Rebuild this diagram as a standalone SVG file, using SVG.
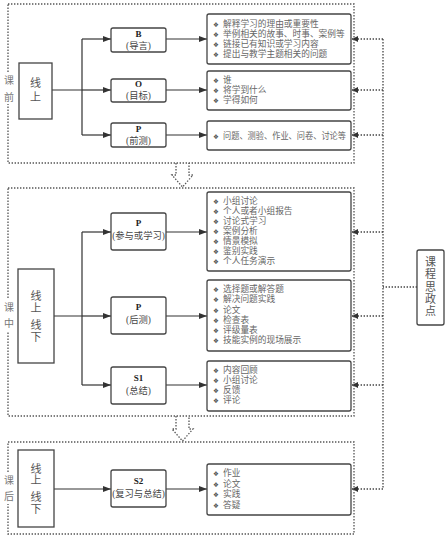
<svg xmlns="http://www.w3.org/2000/svg" width="445" height="540" viewBox="0 0 445 540">
<defs>
<style>
text{font-family:"Liberation Serif","Noto Sans CJK SC",serif;}
.sec{fill:none;stroke:#555;stroke-width:1.3;stroke-dasharray:1.4 1.6;}
.box{fill:#fff;stroke:#444;stroke-width:1.3;}
.lst{fill:#fff;stroke:#444;stroke-width:1.3;}
.ln{fill:none;stroke:#333;stroke-width:1.2;}
.dl{fill:none;stroke:#444;stroke-width:1.3;stroke-dasharray:1.4 1.6;}
.lbl{font-size:10px;fill:#777;text-anchor:middle;}
.big{font-size:11px;fill:#555;text-anchor:middle;}
.t1{font-size:9px;fill:#222;text-anchor:middle;font-weight:bold;}
.t2{font-size:9.3px;fill:#444;text-anchor:middle;}
.li{font-size:8.7px;fill:#666;}
.bul{font-family:"DejaVu Sans",sans-serif;font-size:6.5px;fill:#555;}
</style>
<marker id="ah" markerUnits="userSpaceOnUse" markerWidth="8" markerHeight="6" refX="8" refY="3" orient="auto"><path d="M0,0 L8,3 L0,6 z" fill="#333"/></marker>
<marker id="ahd" markerUnits="userSpaceOnUse" markerWidth="6" markerHeight="6" refX="6" refY="3" orient="auto"><path d="M0,0 L6,3 L0,6 z" fill="#333"/></marker>
</defs>
<rect width="445" height="540" fill="#fff"/>

<g id="sections">
<rect class="sec" x="8" y="4" width="346" height="159"/>
<rect class="sec" x="8" y="188" width="346" height="228"/>
<rect class="sec" x="8" y="442" width="346" height="92"/>
<path class="sec" d="M176,163 V175 H172 L182.5,187 L193,175 H189 V163"/>
<path class="sec" d="M176,416 V429 H172 L182.5,441 L193,429 H189 V416"/>
<rect x="3" y="72" width="11" height="32" fill="#fff"/>
<text class="lbl" x="9" y="84">课</text><text class="lbl" x="9" y="101">前</text>
<rect x="3" y="299" width="11" height="32" fill="#fff"/>
<text class="lbl" x="9" y="311">课</text><text class="lbl" x="9" y="327">中</text>
<rect x="3" y="472" width="11" height="32" fill="#fff"/>
<text class="lbl" x="9" y="484">课</text><text class="lbl" x="9" y="500">后</text>
</g>

<g id="connectors">
<path class="ln" d="M52,90 H82 M82,39 V135 M54,316 H82 M82,232 V385"/>
<path class="ln" marker-end="url(#ah)" d="M82,39 H111"/>
<path class="ln" marker-end="url(#ah)" d="M82,90 H111"/>
<path class="ln" marker-end="url(#ah)" d="M82,135 H111"/>
<path class="ln" marker-end="url(#ah)" d="M166,39 H207"/>
<path class="ln" marker-end="url(#ah)" d="M166,90 H207"/>
<path class="ln" marker-end="url(#ah)" d="M166,135 H207"/>
<path class="ln" marker-end="url(#ah)" d="M82,232 H111"/>
<path class="ln" marker-end="url(#ah)" d="M82,316 H111"/>
<path class="ln" marker-end="url(#ah)" d="M82,385 H111"/>
<path class="ln" marker-end="url(#ah)" d="M166,232 H207"/>
<path class="ln" marker-end="url(#ah)" d="M166,316 H207"/>
<path class="ln" marker-end="url(#ah)" d="M166,385 H207"/>
<path class="ln" marker-end="url(#ah)" d="M54,489 H111"/>
<path class="ln" marker-end="url(#ah)" d="M166,489 H207"/>
<path class="dl" d="M383,39 V489 M417,287 H383"/>
<path class="dl" marker-end="url(#ahd)" d="M383,39 H352"/>
<path class="dl" marker-end="url(#ahd)" d="M383,90 H352"/>
<path class="dl" marker-end="url(#ahd)" d="M383,135 H352"/>
<path class="dl" marker-end="url(#ahd)" d="M383,232 H352"/>
<path class="dl" marker-end="url(#ahd)" d="M383,316 H352"/>
<path class="dl" marker-end="url(#ahd)" d="M383,385 H352"/>
<path class="dl" marker-end="url(#ahd)" d="M383,489 H352"/>
</g>

<g id="online1">
<rect class="box" x="19" y="63" width="33" height="56"/>
<text class="big" x="35.5" y="87">线</text><text class="big" x="35.5" y="101">上</text>
</g>
<g id="B">
<rect class="box" x="111" y="28" width="55" height="24" rx="2"/>
<text class="t1" x="138.5" y="36.5">B</text><text class="t2" x="138.5" y="48.5">(导言)</text>
</g>
<g id="O">
<rect class="box" x="111" y="79" width="55" height="23" rx="2"/>
<text class="t1" x="138.5" y="87">O</text><text class="t2" x="138.5" y="99">(目标)</text>
</g>
<g id="P1">
<rect class="box" x="111" y="123" width="55" height="24" rx="2"/>
<text class="t1" x="138.5" y="131.5">P</text><text class="t2" x="138.5" y="143.5">(前测)</text>
</g>
<g id="listB">
<rect class="lst" x="207" y="14" width="144" height="50" rx="2"/>
<text class="li" y="27"><tspan class="bul" x="213">❖</tspan><tspan x="223">解释学习的理由或重要性</tspan></text>
<text class="li" y="37"><tspan class="bul" x="213">❖</tspan><tspan x="223">举例相关的故事、时事、案例等</tspan></text>
<text class="li" y="47"><tspan class="bul" x="213">❖</tspan><tspan x="223">链接已有知识或学习内容</tspan></text>
<text class="li" y="57"><tspan class="bul" x="213">❖</tspan><tspan x="223">提出与教学主题相关的问题</tspan></text>
</g>
<g id="listO">
<rect class="lst" x="207" y="71" width="144" height="39" rx="2"/>
<text class="li" y="83"><tspan class="bul" x="213">❖</tspan><tspan x="223">谁</tspan></text>
<text class="li" y="93"><tspan class="bul" x="213">❖</tspan><tspan x="223">将学到什么</tspan></text>
<text class="li" y="103"><tspan class="bul" x="213">❖</tspan><tspan x="223">学得如何</tspan></text>
</g>
<g id="listP1">
<rect class="lst" x="207" y="121" width="144" height="29" rx="2"/>
<text class="li" y="138.5"><tspan class="bul" x="213">❖</tspan><tspan x="223" textLength="123" lengthAdjust="spacingAndGlyphs">问题、测验、作业、问卷、讨论等</tspan></text>
</g>

<g id="online2">
<rect class="box" x="18" y="269" width="36" height="94"/>
<text class="big" x="36" y="300">线</text><text class="big" x="36" y="312">上</text>
<text class="big" x="36" y="329">线</text><text class="big" x="36" y="341">下</text>
</g>
<g id="P2">
<rect class="box" x="111" y="213" width="55" height="37" rx="2"/>
<text class="t1" x="138.5" y="226">P</text><text class="t2" x="138.5" y="238.5">(参与或学习)</text>
</g>
<g id="P3">
<rect class="box" x="111" y="297" width="55" height="37" rx="2"/>
<text class="t1" x="138.5" y="310">P</text><text class="t2" x="138.5" y="323">(后测)</text>
</g>
<g id="S1">
<rect class="box" x="111" y="367" width="55" height="37" rx="2"/>
<text class="t1" x="138.5" y="381">S1</text><text class="t2" x="138.5" y="393.5">(总结)</text>
</g>
<g id="listP2">
<rect class="lst" x="207" y="192" width="144" height="79" rx="2"/>
<text class="li" y="204"><tspan class="bul" x="213">❖</tspan><tspan x="223">小组讨论</tspan></text>
<text class="li" y="214"><tspan class="bul" x="213">❖</tspan><tspan x="223">个人或者小组报告</tspan></text>
<text class="li" y="224"><tspan class="bul" x="213">❖</tspan><tspan x="223">讨论式学习</tspan></text>
<text class="li" y="234"><tspan class="bul" x="213">❖</tspan><tspan x="223">案例分析</tspan></text>
<text class="li" y="244"><tspan class="bul" x="213">❖</tspan><tspan x="223">情景模拟</tspan></text>
<text class="li" y="254"><tspan class="bul" x="213">❖</tspan><tspan x="223">鉴别实践</tspan></text>
<text class="li" y="264"><tspan class="bul" x="213">❖</tspan><tspan x="223">个人任务演示</tspan></text>
</g>
<g id="listP3">
<rect class="lst" x="207" y="280" width="144" height="71" rx="2"/>
<text class="li" y="292"><tspan class="bul" x="213">❖</tspan><tspan x="223">选择题或解答题</tspan></text>
<text class="li" y="302"><tspan class="bul" x="213">❖</tspan><tspan x="223">解决问题实践</tspan></text>
<text class="li" y="312.5"><tspan class="bul" x="213">❖</tspan><tspan x="223">论文</tspan></text>
<text class="li" y="322.5"><tspan class="bul" x="213">❖</tspan><tspan x="223">检查表</tspan></text>
<text class="li" y="333"><tspan class="bul" x="213">❖</tspan><tspan x="223">评级量表</tspan></text>
<text class="li" y="343"><tspan class="bul" x="213">❖</tspan><tspan x="223">技能实例的现场展示</tspan></text>
</g>
<g id="listS1">
<rect class="lst" x="207" y="361" width="144" height="50" rx="2"/>
<text class="li" y="373"><tspan class="bul" x="213">❖</tspan><tspan x="223">内容回顾</tspan></text>
<text class="li" y="383"><tspan class="bul" x="213">❖</tspan><tspan x="223">小组讨论</tspan></text>
<text class="li" y="393"><tspan class="bul" x="213">❖</tspan><tspan x="223">反馈</tspan></text>
<text class="li" y="403"><tspan class="bul" x="213">❖</tspan><tspan x="223">评论</tspan></text>
</g>

<g id="online3">
<rect class="box" x="18" y="450" width="36" height="77"/>
<text class="big" x="36" y="473">线</text><text class="big" x="36" y="484">上</text>
<text class="big" x="36" y="501">线</text><text class="big" x="36" y="513">下</text>
</g>
<g id="S2">
<rect class="box" x="111" y="470" width="55" height="37" rx="2"/>
<text class="t1" x="138.5" y="484">S2</text><text class="t2" x="138.5" y="496.5">(复习与总结)</text>
</g>
<g id="listS2">
<rect class="lst" x="207" y="464" width="144" height="51" rx="2"/>
<text class="li" y="476"><tspan class="bul" x="213">❖</tspan><tspan x="223">作业</tspan></text>
<text class="li" y="486.5"><tspan class="bul" x="213">❖</tspan><tspan x="223">论文</tspan></text>
<text class="li" y="497"><tspan class="bul" x="213">❖</tspan><tspan x="223">实践</tspan></text>
<text class="li" y="507.5"><tspan class="bul" x="213">❖</tspan><tspan x="223">答疑</tspan></text>
</g>

<g id="sizheng">
<rect class="box" x="417" y="250" width="27" height="75" rx="2"/>
<text class="big" x="430.5" y="266">课</text><text class="big" x="430.5" y="278">程</text>
<text class="big" x="430.5" y="291">思</text><text class="big" x="430.5" y="303">政</text>
<text class="big" x="430.5" y="315">点</text>
</g>
</svg>
